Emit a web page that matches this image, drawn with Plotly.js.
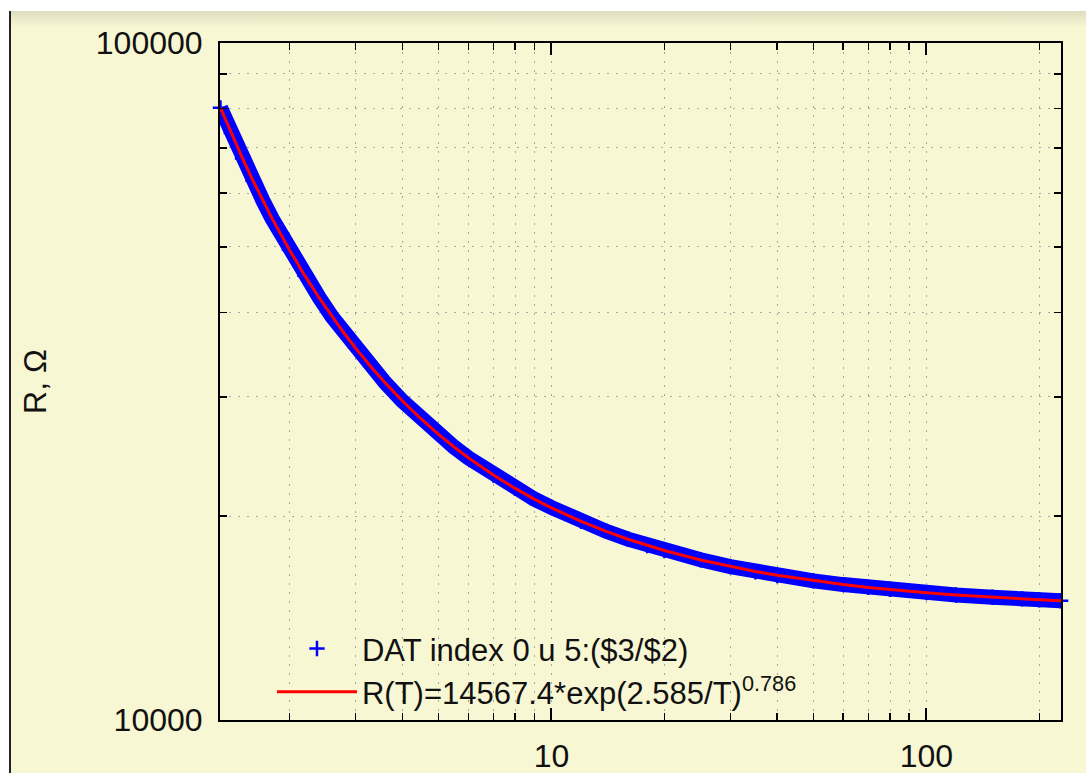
<!DOCTYPE html>
<html>
<head>
<meta charset="utf-8">
<script src="https://cdn.plot.ly/plotly-3.0.1.min.js"></script>
<style>
  html, body { margin: 0; padding: 0; background: #ffffff; width: 1086px; height: 773px; overflow: hidden; }
  #frame { position: absolute; left: 9px; top: 11px; width: 1077px; height: 762px; border-left: 2px solid #222; background: #f8f7d3; }
  #chart { position: absolute; left: 0; top: 0; width: 1075px; height: 762px; }
  #shade { position: absolute; left: 0; top: 0; width: 1075px; height: 16px; pointer-events: none;
           background: linear-gradient(to bottom, rgba(222,221,190,1), rgba(248,247,211,0)); }
</style>
</head>
<body>
<div id="frame"><div id="chart"></div><div id="shade"></div></div>
<script>
var dataT = [1.31, 1.4, 1.5, 1.6, 1.7, 1.8, 2.0, 2.2, 2.4, 2.6, 2.8, 3.0, 3.3, 3.6, 4.0, 4.5, 5, 5.5, 6, 7, 8, 9, 10, 12, 14, 16, 18, 20, 25, 30, 35, 40, 50, 60, 70, 80, 100, 120, 150, 180, 200, 228];
var dataR = [80200, 73600, 67500, 62600, 58500, 55000, 49500, 45300, 42100, 39400, 37300, 35500, 33300, 31500, 29600, 27800, 26400, 25300, 24400, 23000, 22000, 21200, 20600, 19650, 19000, 18500, 18100, 17800, 17250, 16850, 16550, 16350, 16050, 15850, 15700, 15600, 15420, 15300, 15180, 15100, 15050, 15000];

// Fit curve samples
var fitT = [1.31, 1.4, 1.5, 1.6, 1.7, 1.8, 2.0, 2.2, 2.4, 2.6, 2.8, 3.0, 3.3, 3.6, 4.0, 4.5, 5, 5.5, 6, 7, 8, 9, 10, 12, 14, 16, 18, 20, 25, 30, 35, 40, 50, 60, 70, 80, 100, 120, 150, 180, 200, 230];
var fitR = [80240, 73559, 67533, 62599, 58494, 55028, 49512, 45327, 42051, 39419, 37259, 35457, 33252, 31487, 29616, 27815, 26421, 25310, 24403, 23008, 21983, 21197, 20575, 19648, 18989, 18494, 18108, 17797, 17233, 16850, 16573, 16361, 16059, 15851, 15699, 15583, 15415, 15299, 15178, 15095, 15053, 15002];

var dataName = 'DAT index 0 u 5:($3/$2)';
var fitName = 'R(T)=14567.4*exp(2.585/T)<sup>0.786</sup>';

var xMajor = [10, 100];
var xMajorText = ['10', '100'];
var xMinor = [2, 3, 4, 5, 6, 7, 8, 9, 20, 30, 40, 50, 60, 70, 80, 90, 200];
var yMajor = [10000, 100000];
var yMajorText = ['10000', '100000'];
var yMinor = [20000, 30000, 40000, 50000, 60000, 70000, 80000, 90000];

var yAxisTitle = 'R, Ω';

var BG = '#f8f7d3';
var FONT = 'Liberation Sans, Arial, sans-serif';

var traces = [
  { x: dataT, y: dataR, type: 'scatter', mode: 'lines', showlegend: false, hoverinfo: 'skip',
    line: { color: '#0000ff', width: 15 } },
  { x: dataT, y: dataR, type: 'scatter', mode: 'markers', name: dataName, cliponaxis: false,
    marker: { symbol: 'cross-thin-open', size: 11, color: '#0000ff', line: { color: '#0000ff', width: 2.5 } } },
  { x: fitT, y: fitR, type: 'scatter', mode: 'lines', name: fitName,
    line: { color: '#ff0000', width: 3 } }
];

var axisCommon = {
  showline: true, linecolor: '#000', linewidth: 2, mirror: 'ticks',
  ticks: 'inside', ticklen: 12, tickwidth: 2, tickcolor: '#000',
  showgrid: true, gridcolor: '#a8a8a0', gridwidth: 1, griddash: '2px,7px',
  zeroline: false,
  tickfont: { family: FONT, size: 32, color: '#111' }
};

var layout = {
  width: 1075, height: 762,
  margin: { l: 209, r: 25, t: 32, b: 53 },
  paper_bgcolor: 'rgba(0,0,0,0)',
  plot_bgcolor: BG,
  font: { family: FONT, size: 31, color: '#111' },
  xaxis: Object.assign({}, axisCommon, {
    type: 'log', range: [0.116, 2.359],
    tickmode: 'array', tickvals: xMajor, ticktext: xMajorText,
    ticklabelstandoff: 7,
    minor: { tickmode: 'array', tickvals: xMinor, ticks: 'inside', ticklen: 7, tickwidth: 1.5, tickcolor: '#000',
             showgrid: true, gridcolor: '#a8a8a0', gridwidth: 1, griddash: '2px,7px' }
  }),
  yaxis: Object.assign({}, axisCommon, {
    type: 'log', range: [4, 5],
    tickmode: 'array', tickvals: yMajor, ticktext: yMajorText,
    ticklabelstandoff: 9,
    title: { text: yAxisTitle, font: { family: FONT, size: 32, color: '#111' }, standoff: 40 },
    minor: { tickmode: 'array', tickvals: yMinor, ticks: 'inside', ticklen: 7, tickwidth: 1.5, tickcolor: '#000',
             showgrid: true, gridcolor: '#a8a8a0', gridwidth: 1, griddash: '2px,7px' }
  }),
  legend: {
    x: 0.0618, y: 0.145, xanchor: 'left', yanchor: 'top',
    bgcolor: 'rgba(0,0,0,0)', borderwidth: 0,
    font: { family: FONT, size: 31, color: '#111' },
    itemwidth: 80, tracegroupgap: 0
  },
  showlegend: true
};

Plotly.newPlot('chart', traces, layout, { displayModeBar: false, staticPlot: true });
</script>
</body>
</html>
